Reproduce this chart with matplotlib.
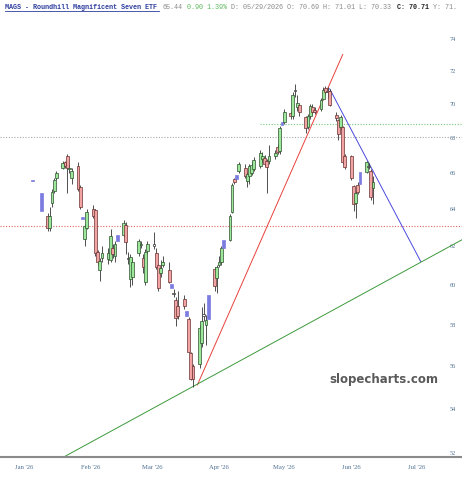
import matplotlib
matplotlib.use("Agg")
import matplotlib.pyplot as plt
import numpy as np
import pandas as pd

# daily bars (first one is an isolated print on Jan 5, then business days from Jan 9)
dates = pd.to_datetime(["2026-01-05"]).append(pd.bdate_range("2026-01-09", periods=110))

opens = [65.6,
         64.9, 63.6, 63.0, 64.35, 65.0, 65.7, 66.3, 66.6, 66.95, 66.2,
         65.7, 66.4, 65.2, 63.55, 62.37, 62.95, 64.0, 63.95, 61.7, 60.75,
         61.4, 61.35, 61.3, 61.9, 61.5, 62.3, 62.6, 63.15, 61.4, 60.3,
         60.4, 61.65, 62.05, 61.4, 60.15, 61.75, 62.0, 61.65, 61.0, 60.6,
         61.0, 60.75, 60.05, 59.6, 59.25, 58.95, 59.3, 58.7, 58.3, 56.6,
         56.0, 56.1, 57.1, 58.5, 58.0, 58.3, 60.8, 60.35, 61.0, 61.2,
         61.9, 62.35, 63.85, 65.65, 65.9, 66.1, 66.3, 65.55, 65.8, 66.0,
         66.2, 66.4, 66.8, 66.85, 66.7, 66.65, 66.95, 67.5, 67.25, 68.9,
         68.95, 69.45, 69.25, 70.85, 69.8, 69.95, 69.2, 68.65, 69.25, 69.8,
         69.65, 69.7, 70.3, 70.95, 70.69, 70.75, 69.35, 69.05, 68.65, 68.65,
         66.95, 66.95, 65.25, 64.35, 65.35, 65.4, 66.05, 66.4, 66.1, 65.15]
highs = [65.65,
         64.95, 63.8, 64.1, 65.1, 65.7, 66.1, 66.7, 66.7, 67.05, 66.5,
         66.3, 66.6, 65.3, 63.6, 63.2, 64.0, 64.2, 64.0, 61.8, 61.4,
         62.0, 61.9, 62.9, 62.1, 62.3, 62.65, 63.4, 63.3, 61.7, 61.6,
         61.4, 62.4, 62.3, 61.6, 61.85, 62.3, 62.75, 61.9, 61.1, 61.3,
         61.5, 61.2, 60.1, 59.8, 59.4, 59.7, 59.5, 58.8, 58.4, 56.65,
         56.1, 58.0, 58.9, 59.1, 58.5, 59.6, 60.9, 61.0, 61.5, 62.0,
         62.4, 63.75, 65.45, 65.7, 65.95, 66.6, 66.5, 66.05, 66.5, 66.6,
         66.9, 67.3, 67.2, 67.0, 66.8, 67.6, 67.3, 67.65, 68.7, 69.0,
         69.7, 69.6, 70.7, 71.2, 70.5, 70.0, 69.3, 69.4, 70.0, 70.0,
         69.8, 70.35, 71.0, 71.05, 71.01, 70.9, 69.5, 69.1, 69.35, 68.7,
         67.05, 67.0, 65.3, 65.0, 65.5, 66.1, 66.7, 66.55, 66.2, 65.85]
lows = [65.5,
        63.85, 62.8, 62.8, 64.1, 64.9, 65.6, 66.2, 66.3, 64.9, 66.0,
        65.4, 65.0, 64.0, 63.4, 62.0, 62.9, 63.5, 61.5, 61.0, 60.2,
        61.2, 61.1, 61.2, 61.4, 61.2, 62.25, 62.5, 61.6, 61.1, 59.9,
        60.0, 61.5, 61.9, 60.6, 60.0, 61.6, 61.85, 60.8, 59.7, 60.4,
        60.9, 60.1, 59.8, 59.4, 57.95, 58.3, 58.8, 58.4, 56.6, 55.35,
        55.0, 55.9, 56.9, 58.2, 57.0, 58.2, 59.7, 59.6, 60.9, 61.0,
        61.85, 62.3, 63.8, 65.4, 65.6, 66.0, 65.7, 65.2, 65.4, 65.9,
        66.1, 66.3, 66.6, 66.4, 64.9, 66.5, 66.8, 67.1, 67.1, 68.7,
        68.8, 69.1, 69.1, 70.4, 69.6, 69.3, 68.3, 68.5, 69.1, 69.4,
        69.4, 69.6, 70.2, 70.6, 70.33, 69.9, 69.0, 67.9, 68.5, 66.5,
        66.2, 65.6, 63.9, 63.5, 64.8, 65.3, 66.0, 66.2, 64.5, 64.25]
closes = [65.55,
          63.9, 63.0, 63.65, 64.95, 65.6, 66.0, 66.55, 66.4, 66.3, 66.3,
          66.1, 65.1, 64.1, 63.45, 63.1, 63.85, 63.6, 61.65, 61.2, 61.25,
          61.65, 61.65, 62.55, 61.6, 62.15, 62.6, 63.25, 62.25, 61.35, 61.45,
          61.2, 62.3, 62.15, 60.9, 61.7, 62.1, 62.15, 60.9, 59.85, 60.85,
          61.2, 60.15, 59.85, 59.55, 58.35, 58.45, 58.95, 58.45, 56.65, 55.4,
          55.4, 57.85, 58.2, 58.45, 58.25, 59.5, 59.95, 60.9, 61.2, 61.9,
          62.35, 63.6, 65.3, 65.5, 65.65, 66.5, 65.8, 65.95, 66.4, 66.45,
          66.75, 67.15, 66.95, 66.5, 66.35, 66.95, 67.15, 67.2, 68.6, 68.75,
          69.5, 69.25, 70.55, 70.75, 70.07, 69.5, 68.6, 69.25, 69.85, 69.5,
          69.5, 70.25, 70.85, 70.7, 70.71, 69.95, 69.15, 68.2, 69.2, 66.6,
          66.35, 65.7, 64.25, 64.9, 64.95, 66.05, 66.6, 66.35, 64.65, 65.5]
# g = up, r = down, b = blue bar, w = doji
kinds = (["b"] +
         list("brgggggrrg") + list("grrbggrrrg") + list("gggrgbgrwg") +
         list("gggrggwrrg") + list("grbwrrrbrr") + list("rggwgbrggg") +
         list("bggrbgrggg") + list("gggrrggrgb") + list("grgwgrrggr") +
         list("rggrwrrrgr") + list("rrrgrbgwrg"))

# trendlines and horizontal levels
red_line = (["2026-03-22", "2026-05-28"], [55.1, 73.0])
blue_line = (["2026-05-22", "2026-07-03"], [70.9, 61.2])
green_line = (["2026-01-19", "2026-07-22"], [51.8, 62.35])
red_level = 63.1
gray_level = 68.05
green_level = 68.8
green_level_start = "2026-04-20"

yticks = list(range(52, 76, 2))
months = pd.date_range("2026-01-01", "2026-07-01", freq="MS")

fill = {"g": "#9be89b", "r": "#f2a4a4", "b": "#7b7be0", "w": "#ffffff"}
edge = {"g": "#2f4f2f", "r": "#6b3030", "b": "#7b7be0", "w": "#333333"}

fig = plt.figure(figsize=(4.62, 4.8), dpi=100)
ax = fig.add_axes([0, 23 / 480, 1, 442 / 480])
ax.set_yscale("log")
ax.set_ylim(51.82, 75.5)
ax.set_xlim(pd.Timestamp("2025-12-21"), pd.Timestamp("2026-07-22"))

# levels
ax.axhline(red_level, color="#e06666", lw=0.8, ls=(0, (1, 1.5)))
ax.axhline(gray_level, color="#aaaaaa", lw=0.8, ls=(0, (1, 1.5)))
ax.plot([pd.Timestamp(green_level_start), pd.Timestamp("2026-07-22")],
        [green_level, green_level], color="#77c777", lw=0.8, ls=(0, (1, 1.5)))

# trendlines
for (xs, ys), c in [(red_line, "#e8413c"), (blue_line, "#4a4ae0"), (green_line, "#3d9a3d")]:
    ax.plot(pd.to_datetime(xs), ys, color=c, lw=0.7)

# candles
o = np.array(opens)
c = np.array(closes)
h = np.array(highs)
l = np.array(lows)
wick = np.array([k != "b" for k in kinds])
ax.vlines(dates[wick], l[wick], h[wick], color="#333333", lw=0.6, zorder=3)
bottoms = np.minimum(o, c)
heights = np.maximum(np.abs(c - o), 0.06)
ax.bar(dates, heights, bottom=bottoms, width=1.3,
       color=[fill[k] for k in kinds], edgecolor=[edge[k] for k in kinds],
       linewidth=0.5, zorder=4)

# axes styling
for s in ["top", "left", "right"]:
    ax.spines[s].set_visible(False)
ax.spines["bottom"].set_color("#8a8a8a")
ax.spines["bottom"].set_linewidth(1.5)

ax.set_yticks(yticks)
ax.set_yticklabels([str(t) for t in yticks])
ax.yaxis.set_minor_locator(matplotlib.ticker.NullLocator())
ax.yaxis.tick_right()
ax.tick_params(axis="y", length=0, pad=-9, labelsize=4.5, labelcolor="#4d6f91")
ax.set_xticks(months)
ax.set_xticklabels([m.strftime("%b '%y") for m in months])
ax.xaxis.set_minor_locator(matplotlib.ticker.NullLocator())
ax.tick_params(axis="x", length=0, pad=6, labelsize=4.8, labelcolor="#4d6f91")
for lab in ax.get_xticklabels() + ax.get_yticklabels():
    lab.set_fontfamily("Liberation Serif")

# watermark
ax.text(0.83, 0.175, "slopecharts.com", transform=ax.transAxes, ha="center", va="center",
        fontsize=8.5, fontweight="bold", color="#5a5a5a", family="DejaVu Sans")

# header line (monospace)
fs = 4.85
cw = 0.6 * fs / 72 * 100 / 462
y0 = 1 - 7.5 / 480
x0 = 5 / 462
mono = "Liberation Mono"
parts = [
    (0, "MAGS - Roundhill Magnificent Seven ETF", "#2e3d9e", "bold"),
    (39, "65.44", "#8a8a8a", "normal"),
    (45, "0.90 1.39%", "#5cb85c", "normal"),
    (56, "D: 05/29/2026 O: 70.69 H: 71.01 L: 70.33", "#8a8a8a", "normal"),
    (97, "C: 70.71", "#222222", "bold"),
    (106, "Y: 71.", "#8a8a8a", "normal"),
]
for n, txt, col, wt in parts:
    fig.text(x0 + n * cw, y0, txt, color=col, fontweight=wt, fontsize=fs,
             family=mono, ha="left", va="center")
fig.add_artist(plt.Line2D([x0, x0 + 38 * cw], [y0 - 3.5 / 480, y0 - 3.5 / 480],
                          color="#2e3d9e", lw=0.6))

fig.savefig("out.png", dpi=100)
